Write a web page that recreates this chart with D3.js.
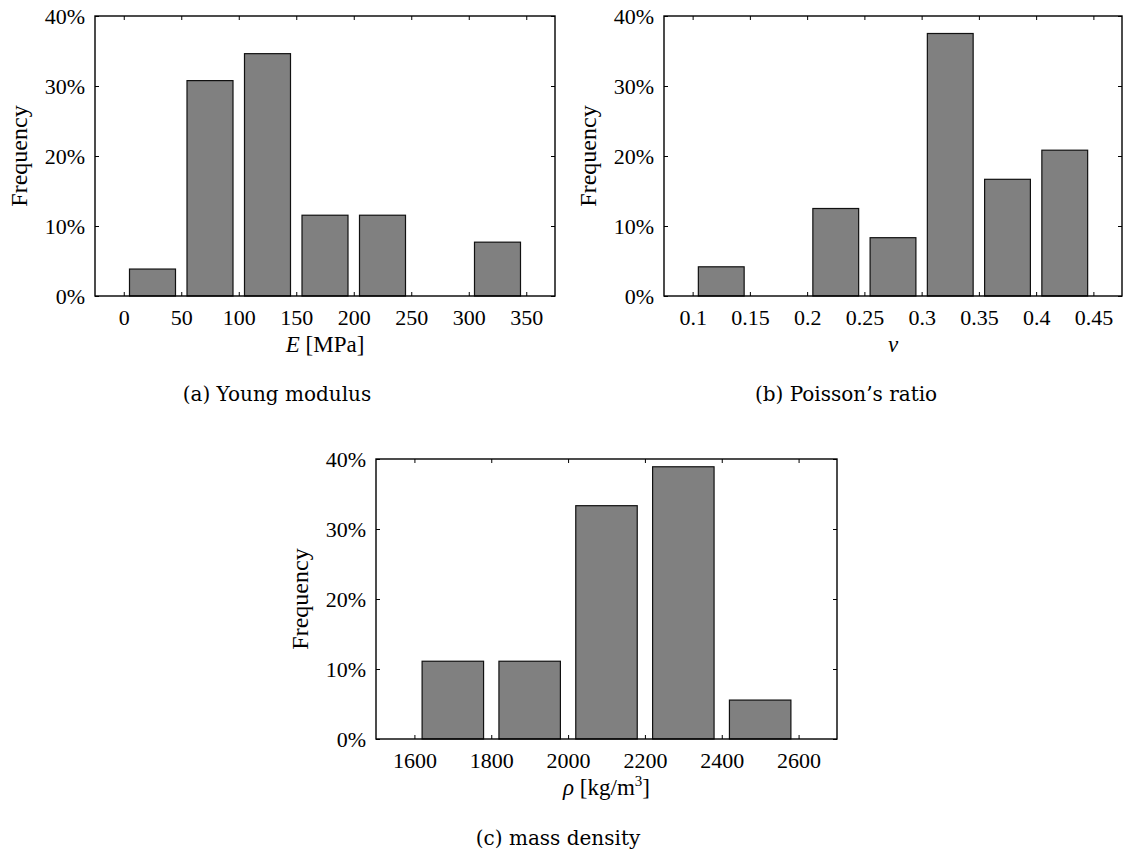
<!DOCTYPE html>
<html>
<head>
<meta charset="utf-8">
<script src="https://cdn.jsdelivr.net/npm/d3@7"></script>
<style>
body { margin: 0; background: #fff; }
svg { display: block; }
</style>
</head>
<body>
<div class="fig"></div>
<script>
//Young modulus histogram (bin start, % of samples)
var youngBinStart = [0, 50, 100, 150, 200, 250, 300];
var youngFreq = [3.85, 30.77, 34.62, 11.54, 11.54, 0, 7.69];
var youngTicks = [0, 50, 100, 150, 200, 250, 300, 350];

//Poisson's ratio histogram
var poissonBinStart = [0.10, 0.15, 0.20, 0.25, 0.30, 0.35, 0.40];
var poissonFreq = [4.17, 0, 12.5, 8.33, 37.5, 16.67, 20.83];
var poissonTicks = [0.1, 0.15, 0.2, 0.25, 0.3, 0.35, 0.4, 0.45];

//mass density histogram
var densityBinStart = [1600, 1800, 2000, 2200, 2400];
var densityFreq = [11.11, 11.11, 33.33, 38.89, 5.56];
var densityTicks = [1600, 1800, 2000, 2200, 2400, 2600];

var freqTicks = [0, 10, 20, 30, 40];

var serif = "'Liberation Serif', 'Times New Roman', Tinos, Times, 'Nimbus Roman', 'DejaVu Serif', serif";

//Width and height
var w = 1123;
var h = 855;
var ph = 280;

var svg = d3.select(".fig")
    .append("svg")
    .attr("width", w)
    .attr("height", h);

var panels = [
    {left: 95, top: 16, width: 460, domain: [-25, 375], bin: 50,
     starts: youngBinStart, freq: youngFreq, ticks: youngTicks, fmt: d3.format("d"),
     title: [["E", "italic"], [" [MPa]", "normal"]],
     caption: "(a) Young modulus", capX: 277, capY: 401},
    {left: 664, top: 16, width: 458, domain: [0.075, 0.475], bin: 0.05,
     starts: poissonBinStart, freq: poissonFreq, ticks: poissonTicks, fmt: d => String(+d.toFixed(2)),
     title: [["ν", "italic"]],
     caption: "(b) Poisson\u2019s ratio", capX: 846, capY: 401},
    {left: 376, top: 459, width: 461, domain: [1500, 2700], bin: 200,
     starts: densityBinStart, freq: densityFreq, ticks: densityTicks, fmt: d3.format("d"),
     title: [["ρ", "italic"], [" [kg/m", "normal"], ["3", "sup"], ["]", "normal"]],
     caption: "(c) mass density", capX: 558, capY: 845}
];

panels.forEach(p => {
    var g = svg.append("g")
        .attr("transform", "translate(" + p.left + "," + p.top + ")");

    var x = d3.scaleLinear().domain(p.domain).range([0, p.width]);
    var y = d3.scaleLinear().domain([0, 40]).range([ph, 0]);

    //bars, 80% of bin width
    var bars = p.starts.map((s, i) => ({start: s, f: p.freq[i]})).filter(d => d.f > 0);
    g.selectAll("rect.bar")
        .data(bars)
        .join("rect")
        .attr("class", "bar")
        .attr("x", d => x(d.start + 0.1 * p.bin))
        .attr("width", d => x(d.start + 0.9 * p.bin) - x(d.start + 0.1 * p.bin))
        .attr("y", d => y(d.f))
        .attr("height", d => y(0) - y(d.f))
        .attr("fill", "#808080")
        .attr("stroke", "#111")
        .attr("stroke-width", 1.2);

    //axes with inward ticks
    g.append("g")
        .attr("transform", "translate(0," + ph + ")")
        .call(d3.axisBottom(x).tickValues(p.ticks).tickFormat(p.fmt).tickSize(-4).tickPadding(13))
        .call(a => a.select(".domain").remove());
    g.append("g")
        .call(d3.axisTop(x).tickValues(p.ticks).tickFormat("").tickSize(-4))
        .call(a => a.select(".domain").remove());
    g.append("g")
        .call(d3.axisLeft(y).tickValues(freqTicks).tickFormat(d => d + "%").tickSize(-4).tickPadding(10))
        .call(a => a.select(".domain").remove());
    g.append("g")
        .attr("transform", "translate(" + p.width + ",0)")
        .call(d3.axisRight(y).tickValues(freqTicks).tickFormat("").tickSize(-4))
        .call(a => a.select(".domain").remove());
    g.selectAll(".tick line").attr("stroke", "#000").attr("stroke-width", 1);
    g.selectAll(".tick text")
        .attr("font-family", null)
        .style("font-family", serif)
        .style("font-size", "22px")
        .attr("fill", "#000");

    //frame
    g.append("rect")
        .attr("width", p.width)
        .attr("height", ph)
        .attr("fill", "none")
        .attr("stroke", "#000")
        .attr("stroke-width", 1.4);

    //y label
    g.append("text")
        .style("font-family", serif)
        .style("font-size", "24px")
        .attr("transform", "translate(-68," + ph / 2 + ") rotate(-90)")
        .attr("text-anchor", "middle")
        .text("Frequency");

    //x label
    var t = g.append("text")
        .style("font-family", serif)
        .style("font-size", "23px")
        .attr("x", p.width / 2)
        .attr("y", ph + 56)
        .attr("text-anchor", "middle");
    p.title.forEach(part => {
        var s = t.append("tspan").text(part[0]);
        if (part[1] == "italic") s.style("font-style", "italic");
        if (part[1] == "sup") s.attr("dy", -9).style("font-size", "15px");
        if (part[1] == "normal" && part[0] == "]") s.attr("dy", 9);
    });

    //caption
    svg.append("text")
        .style("font-family", "'DejaVu Serif', serif")
        .style("font-size", "20px")
        .attr("x", p.capX)
        .attr("y", p.capY)
        .attr("text-anchor", "middle")
        .text(p.caption);
});
</script>
</body>
</html>
